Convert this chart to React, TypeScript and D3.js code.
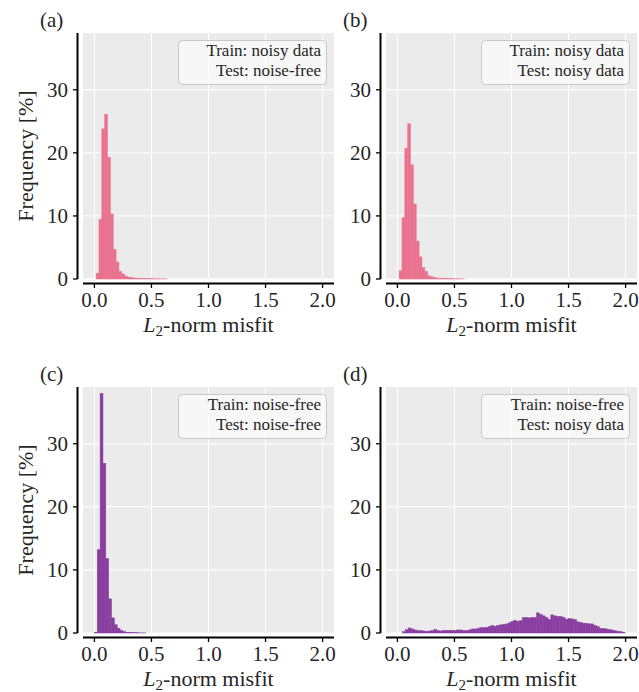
import React from 'react';
import * as d3 from 'd3';

// histogram bins (width in misfit units) and bin heights in percent
const binWidth = 0.025;

const startA = 0.015;
const freqA = [0.9, 9.4, 23.8, 26.1, 19.3, 10.3, 4.7, 2.7, 1.2, 0.8, 0.45, 0.3, 0.2, 0.15, 0.1, 0.1, 0.08, 0.05, 0.05, 0.04, 0.03, 0.03, 0.02, 0.02, 0.02];

const startB = 0.015;
const freqB = [1.3, 9.7, 20.7, 24.6, 18.1, 11.9, 6.0, 3.5, 1.8, 1.2, 0.5, 0.35, 0.2, 0.15, 0.1, 0.08, 0.06, 0.05, 0.04, 0.03, 0.03, 0.02, 0.02];

const startC = 0.0;
const freqC = [0.1, 13.2, 38.0, 26.9, 11.8, 5.4, 2.4, 1.3, 0.75, 0.4, 0.2, 0.12, 0.08, 0.05, 0.04, 0.03, 0.02, 0.02];

const startD = 0.045;
const freqD = [
  0.21, 0.53, 0.8, 0.64, 0.48, 0.37, 0.37, 0.32, 0.27, 0.32,
  0.37, 0.53, 0.37, 0.32, 0.43, 0.43, 0.43, 0.43, 0.37, 0.48,
  0.48, 0.37, 0.37, 0.48, 0.64, 0.64, 0.69, 0.85, 0.85, 0.85,
  1.0, 1.17, 1.06, 1.22, 1.28, 1.38, 1.44, 1.6, 1.86, 2.02,
  1.86, 1.97, 2.45, 2.45, 2.39, 2.45, 2.45, 3.19, 2.93, 2.71,
  2.45, 2.13, 2.87, 2.71, 2.61, 2.61, 2.45, 2.18, 2.29, 2.23,
  2.13, 1.76, 1.65, 1.54, 1.54, 1.44, 1.44, 1.22, 1.0, 0.74,
  0.69, 0.64, 0.53, 0.48, 0.37, 0.27, 0.21, 0.11
];

const panelLetters = ['(a)', '(b)', '(c)', '(d)'];
const trainLabels = ['noisy data', 'noisy data', 'noise-free', 'noise-free'];
const testLabels = ['noise-free', 'noisy data', 'noise-free', 'noisy data'];

const xTicks = [0, 0.5, 1.0, 1.5, 2.0];
const yTicks = [0, 10, 20, 30];

const pink = '#e9728e';
const purple = '#893ea0';
const font = '"Liberation Serif", "Times New Roman", serif';
const ink = '#262626';

const panels = [
  { start: startA, freq: freqA, color: pink, dx: 0, dy: 0 },
  { start: startB, freq: freqB, color: pink, dx: 303, dy: 0 },
  { start: startC, freq: freqC, color: purple, dx: 0, dy: 354 },
  { start: startD, freq: freqD, color: purple, dx: 303, dy: 354 },
];

const Panel = ({ idx }: { idx: number }) => {
  const p = panels[idx];
  const x = d3.scaleLinear().domain([-0.1, 2.1]).range([83, 334]);
  const y = d3.scaleLinear().domain([0, 39]).range([279, 33]);

  return (
    <g transform={`translate(${p.dx}, ${p.dy})`}>
      <rect x={83} y={33} width={251} height={246} fill="#ebebeb" />
      {xTicks.map(t => (
        <line key={'gx' + t} x1={x(t)} x2={x(t)} y1={33} y2={279} stroke="#fff" strokeWidth={1} />
      ))}
      {yTicks.map(t => (
        <line key={'gy' + t} x1={83} x2={334} y1={y(t)} y2={y(t)} stroke="#fff" strokeWidth={1} />
      ))}
      {p.freq.map((v, i) => {
        const x0 = p.start + i * binWidth;
        return (
          <rect key={i} x={x(x0)} width={x(x0 + binWidth) - x(x0)}
            y={y(v)} height={y(0) - y(v)} fill={p.color} stroke={p.color} strokeWidth={0.5} />
        );
      })}

      {/* offset spines */}
      <line x1={77.5} x2={77.5} y1={33} y2={279} stroke="#000" strokeWidth={2} />
      <line x1={83} x2={334} y1={283.5} y2={283.5} stroke="#000" strokeWidth={2} />
      {yTicks.map(t => (
        <g key={'ty' + t}>
          <line x1={73} x2={77.5} y1={y(t)} y2={y(t)} stroke="#000" strokeWidth={1.3} />
          <text x={68} y={y(t) + 7} textAnchor="end" fontSize={21} fontFamily={font} fill={ink}>{t}</text>
        </g>
      ))}
      {xTicks.map(t => (
        <g key={'tx' + t}>
          <line x1={x(t)} x2={x(t)} y1={283.5} y2={288} stroke="#000" strokeWidth={1.3} />
          <text x={x(t)} y={307} textAnchor="middle" fontSize={21} fontFamily={font} fill={ink}>{t.toFixed(1)}</text>
        </g>
      ))}
      <text x={208.5} y={332} textAnchor="middle" fontSize={22} fontFamily={font} fill={ink}>
        <tspan fontStyle="italic">L</tspan>
        <tspan fontSize={15} dy={4}>2</tspan>
        <tspan dy={-4}>-norm misfit</tspan>
      </text>
      {p.dx === 0 && (
        <text transform="translate(25, 156) rotate(-90)" textAnchor="middle" dominantBaseline="central"
          fontSize={22} fontFamily={font} fill={ink}>Frequency [%]</text>
      )}
      <text x={40} y={27} fontSize={21} fontFamily={font} fill={ink}>{panelLetters[idx]}</text>

      {/* legend box */}
      <rect x={178.5} y={40.5} width={148} height={44} rx={4} fill="#fff" fillOpacity={0.6}
        stroke="#c8c8c8" strokeWidth={1} />
      <text x={321} y={56} textAnchor="end" fontSize={17} fontFamily={font} fill={ink}>
        Train: {trainLabels[idx]}
      </text>
      <text x={321} y={76} textAnchor="end" fontSize={17} fontFamily={font} fill={ink}>
        Test: {testLabels[idx]}
      </text>
    </g>
  );
};

const App = () => {
  return (
    <svg width={639} height={692} style={{ position: 'absolute', left: 0, top: 0, background: '#fff' }}>
      {panels.map((_, i) => <Panel key={i} idx={i} />)}
    </svg>
  );
};

export default App;
